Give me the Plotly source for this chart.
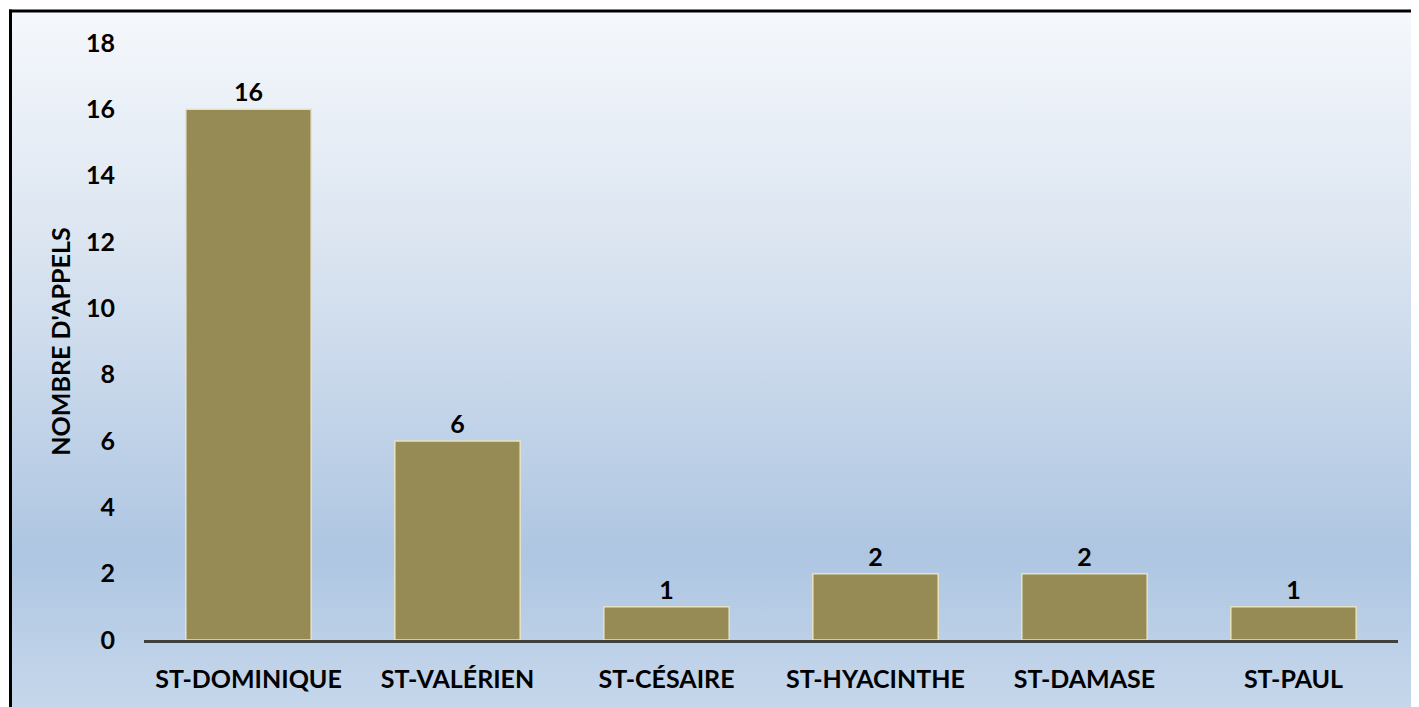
import base64
import plotly.graph_objects as go

categories = ["ST-DOMINIQUE", "ST-VALÉRIEN", "ST-CÉSAIRE", "ST-HYACINTHE", "ST-DAMASE", "ST-PAUL"]
values = [16, 6, 1, 2, 2, 1]
y_ticks = [0, 2, 4, 6, 8, 10, 12, 14, 16, 18]

# page body has an 8px margin; figure sized to fill the rest of the window
W, H = 1411, 699
ML, MR, MT, MB = 136, 21, 35, 67
PW, PH = W - ML - MR, H - MT - MB

def px_to_paper_x(px):
    return (px - ML) / PW

def px_to_paper_y(py):
    return (H - MB - py) / PH

svg = (
    '<svg xmlns="http://www.w3.org/2000/svg" width="100" height="100" preserveAspectRatio="none">'
    '<defs><linearGradient id="g" x1="0" y1="0" x2="0" y2="1">'
    '<stop offset="0" stop-color="#F5F8FC"/>'
    '<stop offset="0.35" stop-color="#DAE4F0"/>'
    '<stop offset="0.78" stop-color="#AEC6E2"/>'
    '<stop offset="1" stop-color="#C6D7EB"/>'
    '</linearGradient></defs>'
    '<rect width="100" height="100" fill="url(#g)"/></svg>'
)
src = "data:image/svg+xml;base64," + base64.b64encode(svg.encode()).decode()

FONT = "Lato"
FS = 25
bold = dict(family=FONT, size=FS, color="#000000", weight="bold")

fig = go.Figure(
    go.Bar(
        x=categories,
        y=values,
        text=[str(v) for v in values],
        textposition="outside",
        textfont=bold,
        cliponaxis=False,
        marker=dict(color="#968B55", line=dict(color="#E6E2C6", width=1.5)),
        width=0.6,
    )
)

fig.update_layout(
    width=W,
    height=H,
    margin=dict(l=ML, r=MR, t=MT, b=MB),
    paper_bgcolor="white",
    plot_bgcolor="rgba(0,0,0,0)",
    showlegend=False,
    font=bold,
    images=[
        dict(
            source=src,
            xref="paper",
            yref="paper",
            x=px_to_paper_x(3),
            y=px_to_paper_y(3),
            sizex=(W - 3) / PW,
            sizey=(H - 3) / PH,
            xanchor="left",
            yanchor="top",
            sizing="stretch",
            layer="below",
        )
    ],
    shapes=[
        dict(type="line", xref="paper", yref="paper",
             x0=px_to_paper_x(2.5), x1=px_to_paper_x(2.5),
             y0=px_to_paper_y(1.5), y1=px_to_paper_y(H + 5),
             line=dict(color="black", width=3)),
        dict(type="line", xref="paper", yref="paper",
             x0=px_to_paper_x(1), x1=px_to_paper_x(W + 5),
             y0=px_to_paper_y(3), y1=px_to_paper_y(3),
             line=dict(color="black", width=3)),
    ],
    xaxis=dict(
        showline=True,
        linecolor="#404040",
        linewidth=3,
        ticks="outside",
        ticklen=15,
        tickcolor="rgba(0,0,0,0)",
        tickfont=bold,
        showgrid=False,
    ),
    yaxis=dict(
        range=[0, 18],
        tickvals=y_ticks,
        showline=False,
        showgrid=False,
        zeroline=False,
        ticks="outside",
        ticklen=23,
        tickcolor="rgba(0,0,0,0)",
        tickfont=bold,
        title=dict(text="NOMBRE D'APPELS", standoff=8, font=bold),
    ),
    bargap=0.4,
)

fig.write_html("out.html")
